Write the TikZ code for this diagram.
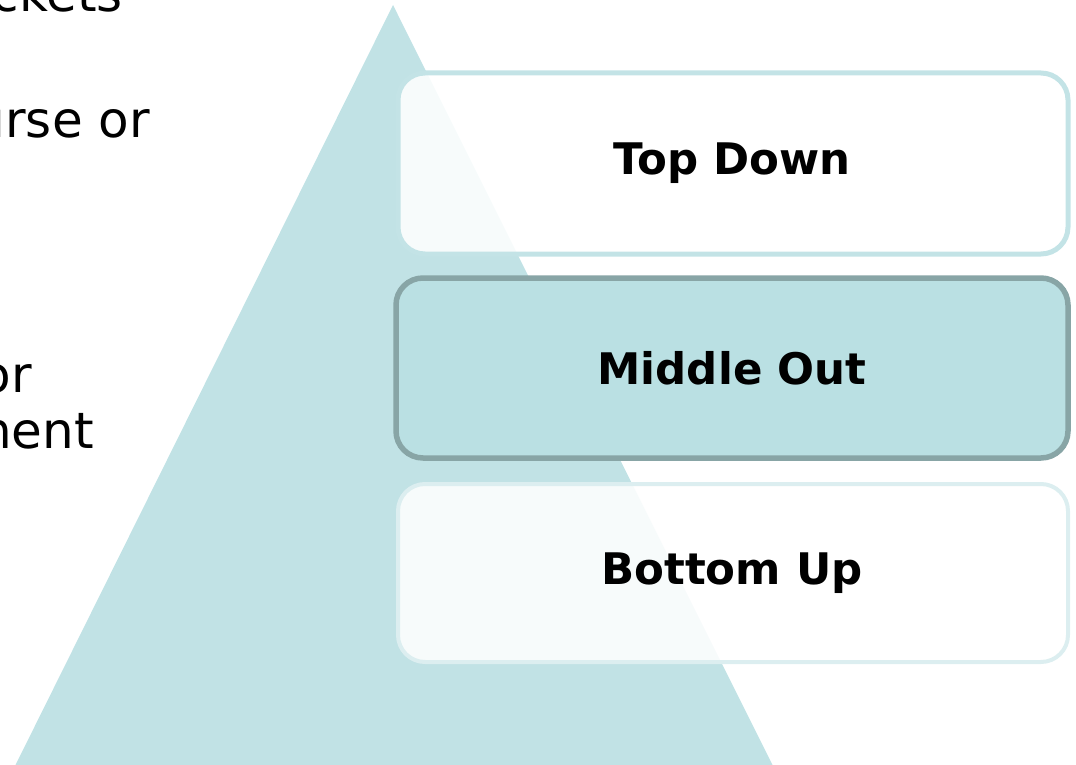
\documentclass[tikz,border=0pt]{standalone}
\usepackage{fontspec}
\setmainfont{DejaVu Sans}
\definecolor{tri}{HTML}{C1E2E5}
\definecolor{topline}{HTML}{C3E3E6}
\definecolor{midfill}{HTML}{BAE0E3}
\definecolor{midline}{HTML}{88A5A6}
\definecolor{botline}{HTML}{DCEEF0}
\tikzset{
  stage/.style={rounded corners=27pt, fill=white, fill opacity=0.88, text opacity=1},
  label/.style={font=\fontsize{43.5}{50}\selectfont\bfseries, text=black},
  sidetext/.style={font=\fontsize{50}{60}\selectfont, text=black, inner sep=0pt, anchor=base east}
}
\begin{document}
\begin{tikzpicture}[x=1pt,y=-1pt]
\useasboundingbox (0,0) rectangle (1076,765);
\clip (0,0) rectangle (1076,765);
% left text fragments
\node[sidetext] (t1) at (123,12) {ckets};
\node[sidetext] (t2) at (150,138) {urse or};
\node[sidetext] (t3) at (32,392) {or};
\node[sidetext] (t4) at (94,448) {nent};
% triangle
\fill[tri] (393,5) -- (773,766) -- (15,766) -- cycle;
% boxes
\draw[stage, draw=topline, line width=5pt] (398,73) rectangle (1068,254);
\draw[rounded corners=27pt, fill=midfill, draw=midline, line width=5.5pt] (396,278) rectangle (1068,458);
\draw[stage, draw=botline, line width=4pt] (398,484) rectangle (1068,662);
% labels
\node[label] (top) at (732,163) {Top Down};
\node[label] (mid) at (732,368) {Middle Out};
\node[label] (bot) at (732,573) {Bottom Up};
\end{tikzpicture}
\end{document}
